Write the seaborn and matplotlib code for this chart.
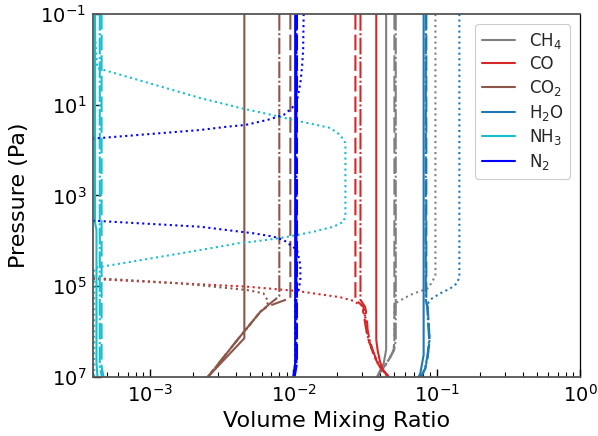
import numpy as np
import pandas as pd
import matplotlib
matplotlib.use("Agg")
import matplotlib.pyplot as plt
from matplotlib.lines import Line2D
import seaborn as sns

# ---------------- data (volume mixing ratio vs pressure in Pa) ----------------
species = ["CH4", "CO", "CO2", "H2O", "NH3", "N2"]
labels = ["CH$_4$", "CO", "CO$_2$", "H$_2$O", "NH$_3$", "N$_2$"]
colors = ["tab:gray", "tab:red", "tab:brown", "tab:blue", "tab:cyan", "blue"]
models = ["solid", "dashed", "dashdot", "dotted"]

# CH4
ch4_solid_x = [0.0444, 0.0444, 0.0427, 0.0394, 0.0384]
ch4_solid_p = [0.1, 2.5e6, 5.0e6, 8.3e6, 1e7]
ch4_dashed_x = [0.0507, 0.0507, 0.0501, 0.0475, 0.0439, 0.0405, 0.0384]
ch4_dashed_p = [0.1, 1.53e6, 2.54e6, 3.57e6, 5.43e6, 7.64e6, 1e7]
ch4_dashdot_x = [0.0518, 0.0518, 0.0505, 0.0477, 0.0440, 0.0405, 0.0384]
ch4_dashdot_p = [0.1, 1.53e6, 2.54e6, 3.57e6, 5.43e6, 7.64e6, 1e7]
ch4_dotted_x = [0.098, 0.098, 0.0875, 0.0655, 0.0532, 0.0507, 0.0507, 0.0501, 0.0475, 0.0439, 0.0405, 0.0384]
ch4_dotted_p = [0.1, 5.94e4, 1.10e5, 1.55e5, 2.22e5, 3.0e5, 1.53e6, 2.54e6, 3.57e6, 5.43e6, 7.64e6, 1e7]

# CO
co_solid_x = [0.0379, 0.0379, 0.0387, 0.0400, 0.0416, 0.0439, 0.0451]
co_solid_p = [0.1, 1.53e6, 2.54e6, 4.23e6, 6.43e6, 8.28e6, 1e7]
co_dashed_x = [0.0271, 0.0271, 0.0310, 0.0306, 0.0318, 0.0314, 0.0323, 0.0335, 0.0354, 0.0373, 0.0394, 0.0416, 0.0451, 0.0457]
co_dashed_p = [0.1, 2.01e5, 2.82e5, 3.64e5, 4.6e5, 5.55e5, 9.2e5, 1.53e6, 2.54e6, 3.87e6, 5.43e6, 7.01e6, 9.04e6, 1e7]
co_dashdot_x = [0.0294, 0.0294, 0.0316, 0.0322, 0.0315, 0.0326, 0.0330, 0.0340, 0.0358, 0.0376, 0.0397, 0.0420, 0.0455, 0.0460]
co_dashdot_p = [0.1, 2.01e5, 2.82e5, 3.64e5, 4.6e5, 5.55e5, 9.2e5, 1.53e6, 2.54e6, 3.87e6, 5.43e6, 7.01e6, 9.04e6, 1e7]
co_dotted_x = [1e-6, 1e-6, 3e-5, 4.0e-4, 4.75e-3, 0.0106, 0.0213, 0.0264, 0.0279, 0.0310, 0.0313, 0.0318, 0.0323, 0.0335, 0.0354, 0.0373, 0.0394, 0.0416, 0.0451, 0.0457]
co_dotted_p = [0.1, 1e4, 4.5e4, 6.92e4, 1.02e5, 1.27e5, 1.75e5, 2.11e5, 2.38e5, 2.82e5, 3.64e5, 5.55e5, 9.2e5, 1.53e6, 2.54e6, 3.87e6, 5.43e6, 7.01e6, 9.04e6, 1e7]

# CO2
co2_solid_x = [0.00455, 0.00455, 0.00253]
co2_solid_p = [0.1, 1.40e6, 1e7]
co2_dashed_x = [0.00953, 0.00953, 0.00655, 0.00589, 0.00417, 0.00253]
co2_dashed_p = [0.1, 1.82e5, 2.82e5, 3.64e5, 1.38e6, 1e7]
co2_dashdot_x = [0.00798, 0.00798, 0.00676, 0.00589, 0.00417, 0.00253]
co2_dashdot_p = [0.1, 1.66e5, 2.51e5, 3.64e5, 1.38e6, 1e7]
co2_dotted_x = [1e-6, 1e-6, 3e-5, 4.0e-4, 1.62e-3, 4.75e-3, 6.18e-3, 6.70e-3, 6.38e-3, 5.89e-3, 4.17e-3, 2.53e-3]
co2_dotted_p = [0.1, 1e4, 4.5e4, 6.58e4, 8.61e4, 1.21e5, 1.43e5, 2.19e5, 3.01e5, 3.64e5, 1.38e6, 1e7]

# H2O
h2o_solid_x = [0.0811, 0.0811, 0.0769, 0.0748]
h2o_solid_p = [0.1, 3.27e6, 8.28e6, 1e7]
h2o_dashed_x = [0.0847, 0.0847, 0.0865, 0.0879, 0.0893, 0.0865, 0.0834, 0.0791, 0.0770]
h2o_dashed_p = [0.1, 2.01e5, 2.82e5, 6.56e5, 1.53e6, 3.57e6, 6.43e6, 9.04e6, 1e7]
h2o_dashdot_x = [0.0840, 0.0840, 0.0858, 0.0872, 0.0886, 0.0860, 0.0830, 0.0788, 0.0768]
h2o_dashdot_p = [0.1, 2.01e5, 2.82e5, 6.56e5, 1.53e6, 3.57e6, 6.43e6, 9.04e6, 1e7]
h2o_dotted_x = [0.144, 0.144, 0.1387, 0.1247, 0.1062, 0.0929, 0.0879, 0.0865, 0.0879, 0.0893, 0.0865, 0.0834, 0.0791, 0.0770]
h2o_dotted_p = [0.1, 6.17e4, 8.61e4, 1.11e5, 1.43e5, 1.85e5, 2.19e5, 2.82e5, 6.56e5, 1.53e6, 3.57e6, 6.43e6, 9.04e6, 1e7]

# NH3
nh3_solid_x = [4.13e-4, 4.13e-4, 4.23e-4, 4.23e-4, 4.30e-4]
nh3_solid_p = [0.1, 3.98e3, 5.75e3, 5.0e6, 1e7]
nh3_dashed_x = [4.59e-4, 4.59e-4, 4.74e-4]
nh3_dashed_p = [0.1, 5.9e6, 1e7]
nh3_dashdot_x = [4.46e-4, 4.46e-4, 4.62e-4]
nh3_dashdot_p = [0.1, 5.9e6, 1e7]
nh3_dotted_x = [4.05e-4, 4.27e-4, 2.24e-3, 4.27e-3, 7.10e-3, 0.0100, 0.01462, 0.01811, 0.02128, 0.02307,
                0.02307, 0.02244, 0.01901, 0.01380, 0.01062, 8.11e-3, 5.26e-3, 4.27e-3, 2.24e-3, 4.08e-4, 4.08e-4]
nh3_dotted_p = [0.1, 1.55, 7.1, 11.8, 16.8, 21.7, 27.9, 32.5, 46.5, 69.7,
                2.69e3, 3.78e3, 4.88e3, 6.28e3, 7.43e3, 8.65e3, 1.04e4, 1.11e4, 1.59e4, 3.96e4, 1e7]

# N2
n2_solid_x = [0.0103, 0.0103, 0.0100]
n2_solid_p = [0.1, 5e6, 1e7]
n2_dashed_x = [0.0106, 0.0106, 0.0102]
n2_dashed_p = [0.1, 5e6, 1e7]
n2_dashdot_x = [0.0105, 0.0105, 0.0101]
n2_dashdot_p = [0.1, 5e6, 1e7]
n2_dotted_x = [0.0118, 0.0117, 0.0115, 0.0112, 0.01062, 9.79e-3, 8.55e-3, 6.55e-3, 4.62e-3, 3.44e-3, 2.24e-3, 4.27e-4,
               3e-5, 3e-5, 4.02e-4, 2.24e-3, 4.27e-3, 5.28e-3, 7.29e-3, 8.55e-3, 9.53e-3, 0.01062, 0.01119, 0.01119,
               0.01089, 0.0103, 0.0103, 0.0100]
n2_dotted_p = [0.1, 0.62, 1.45, 3.32, 7.85, 11.8, 16.8, 21.7, 27.9, 30.5, 36.0, 54.8,
               1.0e2, 2.0e3, 3.59e3, 4.88e3, 6.28e3, 6.81e3, 8.09e3, 9.57e3, 1.23e4, 1.59e4, 3.40e4, 7.28e4,
               1.21e5, 2.01e5, 5e6, 1e7]

profiles = {
    "CH4": [(ch4_solid_x, ch4_solid_p), (ch4_dashed_x, ch4_dashed_p), (ch4_dashdot_x, ch4_dashdot_p), (ch4_dotted_x, ch4_dotted_p)],
    "CO": [(co_solid_x, co_solid_p), (co_dashed_x, co_dashed_p), (co_dashdot_x, co_dashdot_p), (co_dotted_x, co_dotted_p)],
    "CO2": [(co2_solid_x, co2_solid_p), (co2_dashed_x, co2_dashed_p), (co2_dashdot_x, co2_dashdot_p), (co2_dotted_x, co2_dotted_p)],
    "H2O": [(h2o_solid_x, h2o_solid_p), (h2o_dashed_x, h2o_dashed_p), (h2o_dashdot_x, h2o_dashdot_p), (h2o_dotted_x, h2o_dotted_p)],
    "NH3": [(nh3_solid_x, nh3_solid_p), (nh3_dashed_x, nh3_dashed_p), (nh3_dashdot_x, nh3_dashdot_p), (nh3_dotted_x, nh3_dotted_p)],
    "N2": [(n2_solid_x, n2_solid_p), (n2_dashed_x, n2_dashed_p), (n2_dashdot_x, n2_dashdot_p), (n2_dotted_x, n2_dotted_p)],
}

linestyles = {
    "solid": "-",
    "dashed": (0, (7.5, 2.4)),
    "dashdot": (0, (8.0, 1.2, 1.0, 1.2)),
    "dotted": (0, (1.0, 1.65)),
}

# ---------------- plotting ----------------
sns.set_theme(style="ticks")
plt.rcParams["font.family"] = ["DejaVu Sans"]
plt.rcParams["mathtext.fontset"] = "dejavusans"

fig = plt.figure(figsize=(5.98, 4.36), dpi=100)
ax = fig.add_axes([93 / 598, 1 - 377 / 436, (580 - 93) / 598, (377 - 14) / 436])

for sp, col in zip(species, colors):
    for model, (xs, ps) in zip(models, profiles[sp]):
        df = pd.DataFrame({"vmr": xs, "p": ps})
        sns.lineplot(data=df, x="vmr", y="p", sort=False, estimator=None,
                     color=col, linestyle=linestyles[model], linewidth=1.5,
                     ax=ax, legend=False)

ax.set_xscale("log")
ax.set_yscale("log")
ax.set_xlim(4e-4, 1)
ax.set_ylim(1e7, 1e-1)

ax.yaxis.set_major_locator(matplotlib.ticker.FixedLocator([1e-1, 1e1, 1e3, 1e5, 1e7]))
ax.yaxis.set_minor_locator(matplotlib.ticker.NullLocator())
ax.xaxis.set_major_locator(matplotlib.ticker.LogLocator(base=10, numticks=10))
ax.xaxis.set_minor_locator(matplotlib.ticker.LogLocator(base=10, subs=np.arange(2, 10), numticks=20))
ax.xaxis.set_minor_formatter(matplotlib.ticker.NullFormatter())

ax.tick_params(axis="both", which="both", direction="in", colors="black", labelsize=14,
               top=False, right=False)
ax.tick_params(axis="both", which="major", length=6, width=1.0, pad=5)
ax.tick_params(axis="x", which="minor", length=3.5, width=0.8)

for side in ["top", "left", "bottom"]:
    ax.spines[side].set_color("#555555")
    ax.spines[side].set_linewidth(1.3)
ax.spines["right"].set_color("black")
ax.spines["right"].set_linewidth(0.9)

ax.set_xlabel("Volume Mixing Ratio", fontsize=16, color="black")
ax.set_ylabel("Pressure (Pa)", fontsize=16, color="black", labelpad=8)

handles = [Line2D([0], [0], color=c, lw=1.5) for c in colors]
leg = ax.legend(handles, labels, loc="upper right", fontsize=12, frameon=True,
                fancybox=True, edgecolor="#cccccc", framealpha=1.0,
                labelspacing=0.28, borderaxespad=0.6)
leg.get_frame().set_linewidth(0.8)

fig.savefig("out.png", dpi=100)
